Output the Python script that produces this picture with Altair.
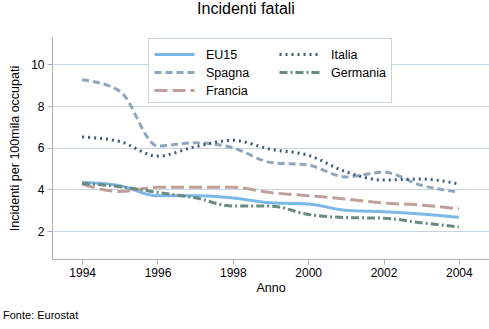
import altair as alt
import pandas as pd

years = [1994, 1995, 1996, 1997, 1998, 1999, 2000, 2001, 2002, 2003, 2004]
eu15 = [4.34, 4.18, 3.70, 3.70, 3.59, 3.36, 3.30, 3.00, 2.93, 2.82, 2.66]
spagna = [9.27, 8.72, 6.09, 6.24, 6.00, 5.30, 5.17, 4.60, 4.83, 4.20, 3.87]
francia = [4.26, 3.90, 4.10, 4.10, 4.10, 3.85, 3.70, 3.54, 3.35, 3.25, 3.07]
italia = [6.52, 6.30, 5.60, 6.05, 6.36, 5.93, 5.64, 4.85, 4.45, 4.50, 4.26]
germania = [4.29, 4.13, 3.86, 3.60, 3.20, 3.20, 2.80, 2.65, 2.62, 2.40, 2.20]

series = {"EU15": eu15, "Spagna": spagna, "Francia": francia,
          "Italia": italia, "Germania": germania}
rows = []
for name, vals in series.items():
    for y, v in zip(years, vals):
        rows.append({"Anno": y, "valore": v, "serie": name})
df = pd.DataFrame(rows)

order = ["EU15", "Spagna", "Francia", "Italia", "Germania"]
colors = ["#7ab8e8", "#90a6be", "#c0a09a", "#3c5a78", "#6b8b7f"]
dashes = [[1, 0], [7, 4], [13, 5], [2, 4], [8, 3, 2, 3]]
widths = [3, 3, 3, 2, 2.5]

font = "Liberation Sans"

lines = alt.Chart(df).mark_line(interpolate="monotone", clip=True).encode(
    x=alt.X("Anno:Q",
            scale=alt.Scale(domain=[1993.2, 2004.8], nice=False, zero=False),
            axis=alt.Axis(values=[1994, 1996, 1998, 2000, 2002, 2004], format="d",
                          title="Anno", grid=False)),
    y=alt.Y("valore:Q",
            scale=alt.Scale(domain=[0.66, 11.32], nice=False, zero=False),
            axis=alt.Axis(values=[2, 4, 6, 8, 10], title="Incidenti per 100mila occupati",
                          grid=True)),
    color=alt.Color("serie:N", scale=alt.Scale(domain=order, range=colors),
                    sort=order,
                    legend=alt.Legend(orient="none", legendX=96, legendY=1, columns=2,
                                      title=None, symbolType="M-1,0L3,0", symbolSize=400,
                                      symbolStrokeWidth=3, labelFontSize=12.5, labelFont=font,
                                      labelColor="#000000", strokeColor="#c8d4e0",
                                      fillColor="#ffffff", padding=5, rowPadding=0,
                                      columnPadding=23, labelOffset=30,
                                      labelLimit=100)),
    strokeDash=alt.StrokeDash("serie:N", scale=alt.Scale(domain=order, range=dashes),
                              sort=order, legend=None),
    strokeWidth=alt.StrokeWidth("serie:N", scale=alt.Scale(domain=order, range=widths),
                                sort=order, legend=None),
)

fonte = alt.Chart(pd.DataFrame({"t": ["Fonte: Eurostat"]})).mark_text(
    align="left", baseline="middle", font=font, fontSize=11, color="#000000"
).encode(x=alt.value(-49), y=alt.value(279), text="t:N")

chart = alt.layer(lines, fonte).properties(
    width=437, height=222,
    autosize=alt.AutoSizeParams(type="none"),
    padding={"left": 52, "top": 37, "right": 0, "bottom": 70},
    title=alt.TitleParams("Incidenti fatali", font=font, fontSize=16, fontWeight="normal",
                          color="#000000", anchor="middle", frame="bounds", offset=20),
).configure_view(stroke=None).configure_axis(
    domainColor="#a8b0b8", tickColor="#a8b0b8", tickSize=5, labelFont=font,
    labelFontSize=12, labelColor="#000000", titleFont=font, titleFontSize=12.5,
    titleFontWeight="normal", titleColor="#000000", gridColor="#c8d4e0"
).configure_axisX(labelPadding=3, titlePadding=3).configure_axisY(labelPadding=3, titlePadding=9)

chart.save("out.html", embed_options={"renderer": "svg", "actions": False})
